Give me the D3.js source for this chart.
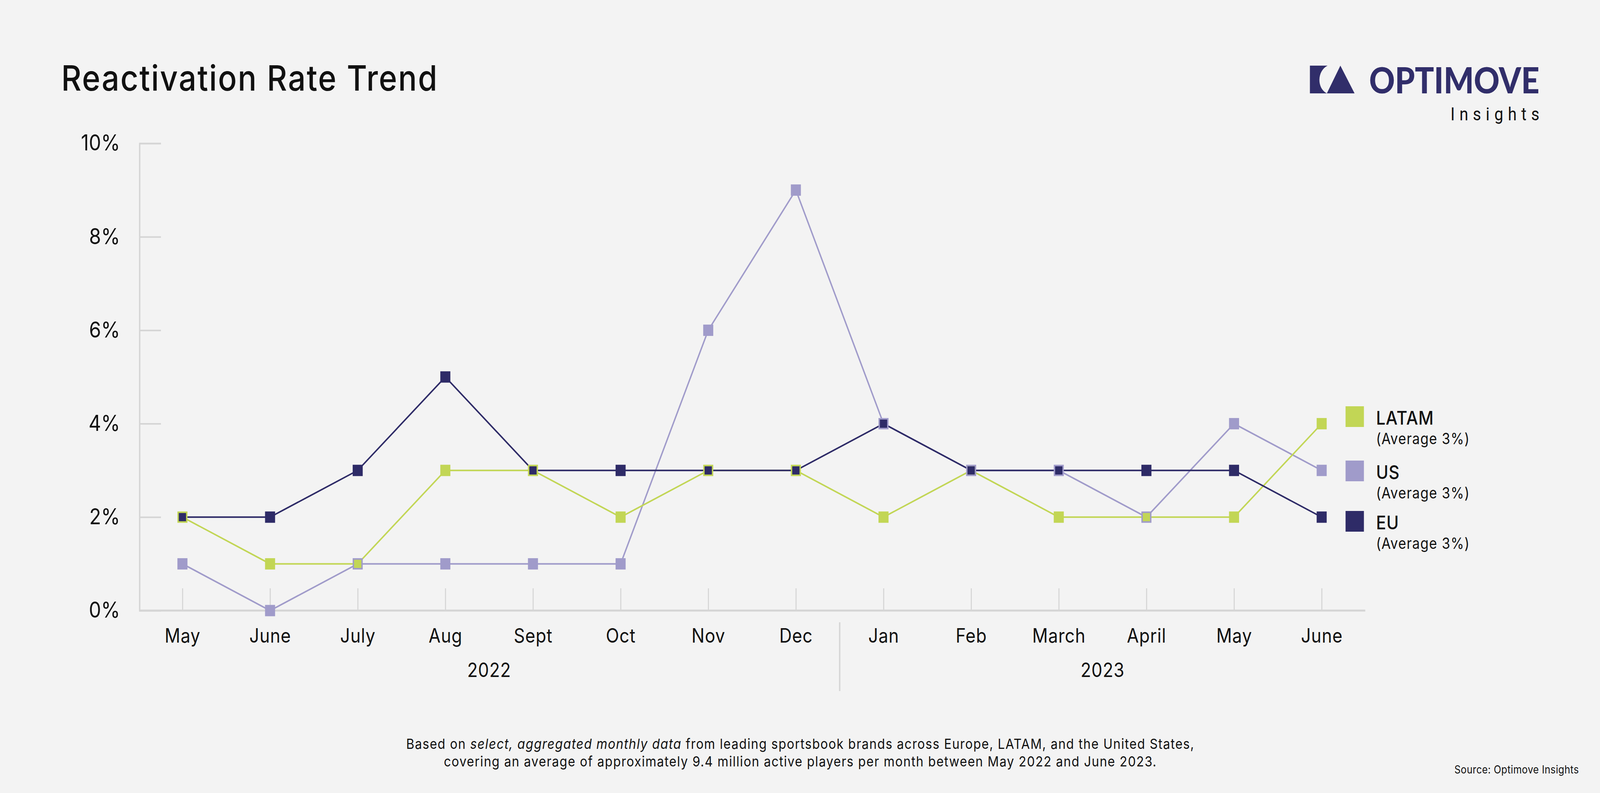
<!DOCTYPE html>
<html>
<head>
<meta charset="utf-8">
<script src="https://cdn.jsdelivr.net/npm/d3@7"></script>
<style>
  html, body { margin: 0; padding: 0; background: #f3f3f3; overflow: hidden; width: 100%; height: 100%; }
  svg { display: block; width: 100vw; height: 100vh; }
</style>
</head>
<body>
<svg id="chart" viewBox="0 0 4622 2030" preserveAspectRatio="none" font-family="Inter, 'Noto Sans', sans-serif" fill="#111"></svg>
<script>
// chart data
const months = ["May", "June", "July", "Aug", "Sept", "Oct", "Nov", "Dec", "Jan", "Feb", "March", "April", "May", "June"]
const years = [
    { label: "2022", from: 0, to: 7 },
    { label: "2023", from: 8, to: 13 }
]
const latam = [2, 1, 1, 3, 3, 2, 3, 3, 2, 3, 2, 2, 2, 4]
const us = [1, 0, 1, 1, 1, 1, 6, 9, 4, 3, 3, 2, 4, 3]
const eu = [2, 2, 3, 5, 3, 3, 3, 3, 4, 3, 3, 3, 3, 2]
const yTicks = [0, 2, 4, 6, 8, 10]

// drawn bottom to top
const series = [
    { name: "US", values: us, color: "#a09bca", note: "(Average 3%)" },
    { name: "LATAM", values: latam, color: "#c2d655", note: "(Average 3%)" },
    { name: "EU", values: eu, color: "#2e2b67", note: "(Average 3%)" }
]
const legendOrder = ["LATAM", "US", "EU"]

const svg = d3.select("#chart")
const width = 4622
const height = 2030

svg.append("rect").attr("width", width).attr("height", height).attr("fill", "#f3f3f3")

const x = d3.scalePoint()
    .domain(d3.range(months.length))
    .range([527, 3818])

const y = d3.scaleLinear()
    .domain([0, 10])
    .range([1563, 367])

const gridColor = "#d5d5d5"

// title
svg.append("text")
    .attr("x", 177)
    .attr("y", 232)
    .attr("font-size", 90)
    .attr("font-weight", 500)
    .attr("letter-spacing", 3)
    .text("Reactivation Rate Trend")

// y axis
const yAxis = svg.append("g")
    .attr("transform", "translate(403,0)")
    .call(d3.axisLeft(y)
        .tickValues(yTicks)
        .tickSize(-62)
        .tickPadding(56)
        .tickFormat(d => d + "%"))

yAxis.selectAll("path, line").attr("stroke", gridColor).attr("stroke-width", 4)
yAxis.selectAll("text")
    .attr("font-size", 56)
    .attr("font-family", "Inter, sans-serif")
    .attr("fill", "#111")

// x axis
const xAxis = svg.append("g")
    .attr("transform", `translate(0,${y(0)})`)
    .call(d3.axisBottom(x)
        .tickSize(-57)
        .tickPadding(47)
        .tickFormat(i => months[i]))

xAxis.select(".domain").remove()
xAxis.selectAll("line").attr("stroke", gridColor).attr("stroke-width", 3)
xAxis.selectAll("text")
    .attr("font-size", 50)
    .attr("font-family", "Inter, sans-serif")
    .attr("letter-spacing", 1)
    .attr("fill", "#111")

svg.append("line")
    .attr("x1", 403).attr("x2", 3944)
    .attr("y1", y(0)).attr("y2", y(0))
    .attr("stroke", gridColor)
    .attr("stroke-width", 5)

// year labels and separator
svg.append("g")
    .selectAll("text")
    .data(years)
    .join("text")
    .attr("x", d => (x(d.from) + x(d.to)) / 2)
    .attr("y", 1733)
    .attr("text-anchor", "middle")
    .attr("font-size", 50)
    .attr("letter-spacing", 1)
    .text(d => d.label)

const sepX = (x(years[0].to) + x(years[1].from)) / 2
svg.append("line")
    .attr("x1", sepX).attr("x2", sepX)
    .attr("y1", 1593).attr("y2", 1769)
    .attr("stroke", gridColor)
    .attr("stroke-width", 4)

// lines
const line = d3.line()
    .x((d, i) => x(i))
    .y(d => y(d))

svg.append("g")
    .selectAll("path")
    .data(series)
    .join("path")
    .attr("fill", "none")
    .attr("stroke", d => d.color)
    .attr("stroke-width", 4)
    .attr("d", d => line(d.values))

// markers: when a point sits on a marker of a series drawn below, it is inset
const markerSize = 29
const insetSize = 21

series.forEach((s, k) => {
    const below = series.slice(0, k)
    svg.append("g")
        .selectAll("rect")
        .data(s.values.map((v, i) => ({ v, i, covered: below.some(b => b.values[i] === v) })))
        .join("rect")
        .attr("x", d => x(d.i) - (d.covered ? insetSize : markerSize) / 2)
        .attr("y", d => y(d.v) - (d.covered ? insetSize : markerSize) / 2)
        .attr("width", d => d.covered ? insetSize : markerSize)
        .attr("height", d => d.covered ? insetSize : markerSize)
        .attr("fill", s.color)
})

// legend
const legendRows = [1040, 1179, 1308]
const legend = svg.append("g")
    .selectAll("g")
    .data(legendOrder.map(n => series.find(s => s.name === n)))
    .join("g")
    .attr("transform", (d, i) => `translate(3887,${legendRows[i]})`)

legend.append("rect")
    .attr("width", 53)
    .attr("height", 53)
    .attr("fill", d => d.color)

legend.append("text")
    .attr("x", 88)
    .attr("y", 47)
    .attr("font-size", 48)
    .attr("font-weight", 500)
    .attr("letter-spacing", 1)
    .text(d => d.name)

legend.append("text")
    .attr("x", 88)
    .attr("y", 97)
    .attr("font-size", 39)
    .attr("letter-spacing", 1.5)
    .text(d => d.note)

// logo
const logo = svg.append("g").attr("fill", "#312e6a")
logo.append("path")
    .attr("d", "M3784,168 H3835 C3804,182 3804,226 3833,239 H3784 Z")
logo.append("path")
    .attr("d", "M3872,168 L3913,239 H3833 Z")
logo.append("text")
    .attr("x", 3955)
    .attr("y", 239)
    .attr("font-size", 92)
    .attr("font-weight", 900)
    .attr("font-family", "Lato, sans-serif")
    .attr("fill", "#312e6a")
    .attr("textLength", 492)
    .attr("lengthAdjust", "spacingAndGlyphs")
    .text("OPTIMOVE")
logo.append("text")
    .attr("x", 4190)
    .attr("y", 308)
    .attr("font-size", 46)
    .attr("font-family", "Roboto, sans-serif")
    .attr("fill", "#111")
    .attr("textLength", 257)
    .attr("lengthAdjust", "spacing")
    .text("Insights")

// footnote
const foot = svg.append("text")
    .attr("x", 2312)
    .attr("y", 1917)
    .attr("text-anchor", "middle")
    .attr("font-size", 36)
    .attr("letter-spacing", 1.8)
foot.append("tspan").text("Based on ")
foot.append("tspan").attr("font-style", "italic").text("select, aggregated monthly data")
foot.append("tspan").text(" from leading sportsbook brands across Europe, LATAM, and the United States,")

svg.append("text")
    .attr("x", 2312)
    .attr("y", 1962)
    .attr("text-anchor", "middle")
    .attr("font-size", 36)
    .attr("letter-spacing", 1.8)
    .text("covering an average of approximately 9.4 million active players per month between May 2022 and June 2023.")

svg.append("text")
    .attr("x", 4561)
    .attr("y", 1980)
    .attr("text-anchor", "end")
    .attr("font-size", 28)
    .attr("letter-spacing", 0.5)
    .text("Source: Optimove Insights")
</script>
</body>
</html>
